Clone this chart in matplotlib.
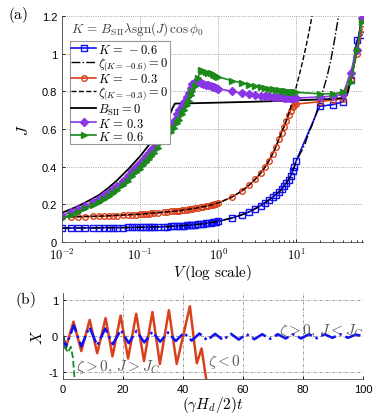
import matplotlib
matplotlib.use('Agg')
import matplotlib.pyplot as plt

plt.rcParams['font.family'] = ['Liberation Sans', 'DejaVu Sans']
plt.rcParams['mathtext.fontset'] = 'cm'

# ---- panel (a): J vs V -------------------------------------------------
V_dense = [0.01, 0.013, 0.016, 0.02, 0.025,
           0.03, 0.035, 0.04, 0.045, 0.05,
           0.06, 0.07, 0.08, 0.09, 0.1,
           0.11, 0.12, 0.13, 0.14, 0.15,
           0.17, 0.2, 0.22, 0.25, 0.27,
           0.3, 0.32, 0.35, 0.37, 0.4,
           0.42, 0.45, 0.47, 0.5, 0.55,
           0.6, 0.65, 0.7, 0.75, 0.8,
           0.85, 0.9, 0.95, 1.0]
V_mid = [1.5, 2, 2.5, 3, 3.5, 4, 4.5, 5, 5.5, 6, 6.5, 7, 7.5, 8, 8.5, 9, 9.5, 10]
V_far = [20, 30, 40, 50, 60, 70]
V_markers = V_dense + V_mid + V_far

J_blue = [0.074, 0.074, 0.075, 0.075, 0.075,
          0.075, 0.076, 0.076, 0.076, 0.076,
          0.076, 0.077, 0.077, 0.078, 0.078,
          0.078, 0.078, 0.079, 0.079, 0.079,
          0.080, 0.081, 0.082, 0.083, 0.084,
          0.085, 0.086, 0.087, 0.087, 0.088,
          0.089, 0.090, 0.091, 0.092, 0.094,
          0.096, 0.097, 0.099, 0.101, 0.103,
          0.104, 0.106, 0.108, 0.110,
          0.127, 0.144, 0.160, 0.177, 0.193, 0.209, 0.224, 0.238, 0.252, 0.265, 0.280,
          0.296, 0.313, 0.330, 0.350, 0.375, 0.400, 0.430,
          0.720, 0.730, 0.745, 0.860, 1.070, 1.100]
J_red = [0.133, 0.134, 0.134, 0.135, 0.136,
         0.137, 0.137, 0.138, 0.139, 0.140,
         0.142, 0.143, 0.145, 0.146, 0.148,
         0.149, 0.150, 0.151, 0.152, 0.153,
         0.155, 0.158, 0.160, 0.162, 0.163,
         0.165, 0.166, 0.168, 0.170, 0.172,
         0.173, 0.175, 0.176, 0.178, 0.181,
         0.184, 0.187, 0.190, 0.193, 0.196,
         0.198, 0.201, 0.204, 0.207,
         0.238, 0.270, 0.302, 0.333, 0.365, 0.398, 0.432, 0.468, 0.505, 0.545, 0.580,
         0.612, 0.643, 0.672, 0.698, 0.718, 0.728, 0.732,
         0.745, 0.755, 0.760, 0.860, 1.000, 1.130]
J_purple = [0.140, 0.160, 0.175, 0.193, 0.213,
            0.230, 0.247, 0.263, 0.280, 0.297,
            0.325, 0.350, 0.375, 0.398, 0.420,
            0.438, 0.455, 0.473, 0.490, 0.505,
            0.535, 0.570, 0.592, 0.620, 0.645,
            0.680, 0.700, 0.720, 0.742, 0.770,
            0.792, 0.820, 0.838, 0.850, 0.848,
            0.845, 0.840, 0.835, 0.831, 0.828,
            0.825, 0.822, 0.818, 0.815,
            0.800, 0.790, 0.785, 0.780, 0.777, 0.775, 0.773, 0.771, 0.770, 0.769, 0.768,
            0.767, 0.766, 0.765, 0.765, 0.764, 0.764, 0.764,
            0.770, 0.775, 0.785, 0.900, 1.020, 1.190]
J_green = [0.125, 0.145, 0.160, 0.178, 0.198,
           0.213, 0.230, 0.245, 0.260, 0.275,
           0.302, 0.325, 0.350, 0.370, 0.390,
           0.408, 0.425, 0.440, 0.455, 0.470,
           0.500, 0.535, 0.555, 0.585, 0.603,
           0.630, 0.650, 0.680, 0.700, 0.730,
           0.750, 0.780, 0.800, 0.830, 0.870,
           0.915, 0.910, 0.905, 0.900, 0.895,
           0.890, 0.885, 0.881, 0.877,
           0.857, 0.845, 0.835, 0.828, 0.822, 0.818, 0.814, 0.810, 0.807, 0.805, 0.803,
           0.801, 0.800, 0.799, 0.798, 0.797, 0.796, 0.795,
           0.787, 0.787, 0.795, 0.850, 1.020, 1.170]

V_zeta_m06 = [0.01, 0.03, 0.1, 0.2, 0.3, 0.5, 0.7, 1.0, 1.5, 2, 2.5, 3, 3.5, 4, 4.5, 5,
              5.5, 6, 6.5, 7, 7.5, 8, 8.5, 9, 9.5, 10, 11, 12, 13, 14, 16, 18, 20, 22,
              25, 28, 31, 35]
J_zeta_m06 = [0.074, 0.075, 0.078, 0.081, 0.085, 0.092, 0.099, 0.110, 0.127, 0.144,
              0.160, 0.177, 0.193, 0.209, 0.224, 0.238, 0.252, 0.265, 0.280, 0.296,
              0.313, 0.330, 0.350, 0.375, 0.400, 0.430, 0.460, 0.490, 0.520, 0.560,
              0.620, 0.680, 0.740, 0.800, 0.880, 0.970, 1.070, 1.200]
V_zeta_m03 = [0.01, 0.03, 0.1, 0.2, 0.3, 0.5, 0.7, 1.0, 1.5, 2, 2.5, 3, 3.5, 4, 4.5, 5,
              5.5, 6, 6.5, 7, 7.5, 8, 8.5, 9.5, 10.5, 12, 14, 16]
J_zeta_m03 = [0.133, 0.137, 0.148, 0.158, 0.165, 0.178, 0.190, 0.207, 0.238, 0.270,
              0.302, 0.333, 0.365, 0.398, 0.432, 0.468, 0.505, 0.545, 0.580, 0.612,
              0.645, 0.680, 0.715, 0.785, 0.855, 0.950, 1.075, 1.200]
V_bsii0 = [0.01, 0.015, 0.02, 0.03, 0.04, 0.05, 0.07, 0.1, 0.13, 0.16, 0.2, 0.23, 0.26,
           0.28, 0.5, 1, 3, 10, 30, 40, 45, 52, 60, 70]
J_bsii0 = [0.155, 0.185, 0.210, 0.250, 0.290, 0.325, 0.385, 0.455, 0.515, 0.560, 0.605,
           0.655, 0.710, 0.735, 0.737, 0.740, 0.745, 0.752, 0.760, 0.765, 0.780, 0.880,
           1.030, 1.200]

# ---- panel (b): X vs time ----------------------------------------------
t_red = [0, 0.9, 3.5, 6.1, 8.9, 11.4, 14.2, 16.5, 19.2, 21.7, 24.4, 27.0, 29.8, 32.3,
         35.3, 37.9, 42.3, 44.6, 46.2, 47.9]
X_red = [0, -0.33, 0.40, -0.42, 0.45, -0.48, 0.50, -0.57, 0.57, -0.63, 0.62, -0.70,
         0.67, -0.78, 0.72, -0.78, 0.83, -0.76, -0.35, -1.3]
t_blue = [0, 0.9, 3.6, 6.1, 8.8, 11.4, 14.1, 16.6, 19.3, 21.9, 24.5, 27.1, 29.8, 32.4,
          35.0, 37.6, 40.3, 42.9, 45.5, 48.1, 50.7, 53.3, 56.0, 58.6, 61.2, 63.8, 66.4,
          69.0, 71.6, 74.2, 76.8, 79.4, 82.0, 84.6, 87.2, 89.8, 92.4, 95.0, 97.6, 100]
X_blue = [0, -0.32, 0.30, -0.29, 0.25, -0.26, 0.21, -0.23, 0.17, -0.20, 0.14, -0.18,
          0.12, -0.16, 0.10, -0.14, 0.09, -0.13, 0.07, -0.12, 0.06, -0.11, 0.06, -0.10,
          0.05, -0.09, 0.05, -0.08, 0.05, -0.07, 0.05, -0.07, 0.05, -0.06, 0.05, -0.05,
          0.05, -0.05, 0.04, 0.0]
t_green = [0, 0.7, 1.7, 2.6, 3.3, 4.0]
X_green = [0, -0.33, -0.46, -0.30, -0.60, -1.35]

BLUE = '#1010f0'
RED = '#d9411a'
PURPLE = '#8a35e6'
GREEN = '#1b8a1b'
GRID = dict(color='0.55', linestyle=':', linewidth=0.6)

W, H = 374, 414
fig = plt.figure(figsize=(W / 100, H / 100), dpi=100)

# panel (a)
ax = fig.add_axes([62 / W, 1 - 243 / H, 301 / W, 226 / H])
ax.plot(V_markers, J_blue, color=BLUE, lw=1.2, marker='s', ms=3.8, mfc='none',
        mew=1.0, label=r'$K\,=\,-0.6$')
ax.plot(V_markers, J_red, color=RED, lw=1.2, marker='o', ms=4.0, mfc='none',
        mew=1.0, label=r'$K\,=\,-0.3$')
ax.plot(V_zeta_m06, J_zeta_m06, color='black', lw=1.0, ls='-.',
        label=r'$\zeta_{(K=-0.6)}=0$')
ax.plot(V_zeta_m03, J_zeta_m03, color='black', lw=1.0, ls='--',
        label=r'$\zeta_{(K=-0.3)}=0$')
ax.plot(V_bsii0, J_bsii0, color='black', lw=1.3, label=r'$B_{\rm SII}=0$')
ax.plot(V_markers, J_purple, color=PURPLE, lw=1.2, marker='D', ms=3.6,
        label=r'$K\,=\,0.3$')
ax.plot(V_markers, J_green, color=GREEN, lw=1.2, marker='>', ms=5,
        label=r'$K\,=\,0.6$')

ax.set_xscale('log')
ax.set_xlim(0.01, 72)
ax.set_ylim(0, 1.2)
ax.set_xticks([0.01, 0.1, 1, 10])
ax.set_xticklabels([r'$10^{-2}$', r'$10^{-1}$', r'$10^{0}$', r'$10^{1}$'], fontsize=9)
ax.set_yticks([0, 0.2, 0.4, 0.6, 0.8, 1.0, 1.2])
ax.set_yticklabels(['0', '0.2', '0.4', '0.6', '0.8', '1', '1.2'], fontsize=8)
ax.tick_params(which='both', direction='in', length=2.5, width=0.6)
ax.tick_params(which='minor', length=1.5)
ax.grid(True, which='major', **GRID)
for side in ('top', 'right'):
    ax.spines[side].set_visible(False)
for side in ('left', 'bottom'):
    ax.spines[side].set_linewidth(0.6)
    ax.spines[side].set_color('0.3')
ax.set_xlabel(r'$V\,(\mathrm{log\ scale})$', fontsize=11, labelpad=0)
ax.set_ylabel(r'$J$', fontsize=11, labelpad=8)

handles, labels = ax.get_legend_handles_labels()
order = [0, 2, 1, 3, 4, 5, 6]
leg = ax.legend([handles[i] for i in order], [labels[i] for i in order],
                loc='upper left', bbox_to_anchor=(0.025, 0.89), fontsize=9,
                frameon=True, fancybox=False, edgecolor='0.6', framealpha=1,
                borderpad=0.15, labelspacing=0.0, handlelength=2.0,
                handletextpad=0.1, borderaxespad=0)
leg.get_frame().set_linewidth(0.8)
ax.text(0.03, 0.945, r'$K\,=\,B_{\rm SII}\lambda{\rm sgn}(J)\,\cos\phi_0$',
        transform=ax.transAxes, fontsize=9.5, color='0.25', va='center', ha='left')

# panel (b)
bx = fig.add_axes([63 / W, 1 - 380 / H, 300 / W, 86 / H])
bx.plot(t_red, X_red, color=RED, lw=1.8)
bx.plot(t_blue, X_blue, color=BLUE, lw=1.8, ls='-.')
bx.plot(t_green, X_green, color=GREEN, lw=1.3, ls='--')
bx.set_xlim(0, 100)
bx.set_ylim(-1.2, 1.2)
bx.set_xticks([0, 20, 40, 60, 80, 100])
bx.set_xticklabels(['0', '20', '40', '60', '80', '100'], fontsize=8)
bx.set_yticks([-1, 0, 1])
bx.set_yticklabels(['-1', '0', '1'], fontsize=8)
bx.tick_params(direction='in', length=2.5, width=0.6)
bx.grid(True, color='0.45', linestyle=(0, (4, 2, 1, 2)), linewidth=0.5)
for side in ('top', 'right'):
    bx.spines[side].set_visible(False)
for side in ('left', 'bottom'):
    bx.spines[side].set_linewidth(0.6)
    bx.spines[side].set_color('0.3')
bx.set_xlabel(r'$(\gamma H_d/2)t$', fontsize=11, labelpad=0)
bx.set_ylabel(r'$X$', fontsize=11, labelpad=2)
ann = dict(fontsize=11, color='0.35', va='center')
bx.text(72, 0.16, r'$\zeta>0,\,J<J_C$', ha='left', **ann)
bx.text(48.5, -0.7, r'$\zeta<0$', ha='left', **ann)
bx.text(4.5, -0.84, r'$\zeta>0,\,J>J_C$', ha='left', **ann)

fig.text(8 / W, 1 - 15 / H, r'$\mathrm{(a)}$', fontsize=11, va='center')
fig.text(15 / W, 1 - 300 / H, r'$\mathrm{(b)}$', fontsize=11, va='center')

fig.savefig('out.png', dpi=100)
